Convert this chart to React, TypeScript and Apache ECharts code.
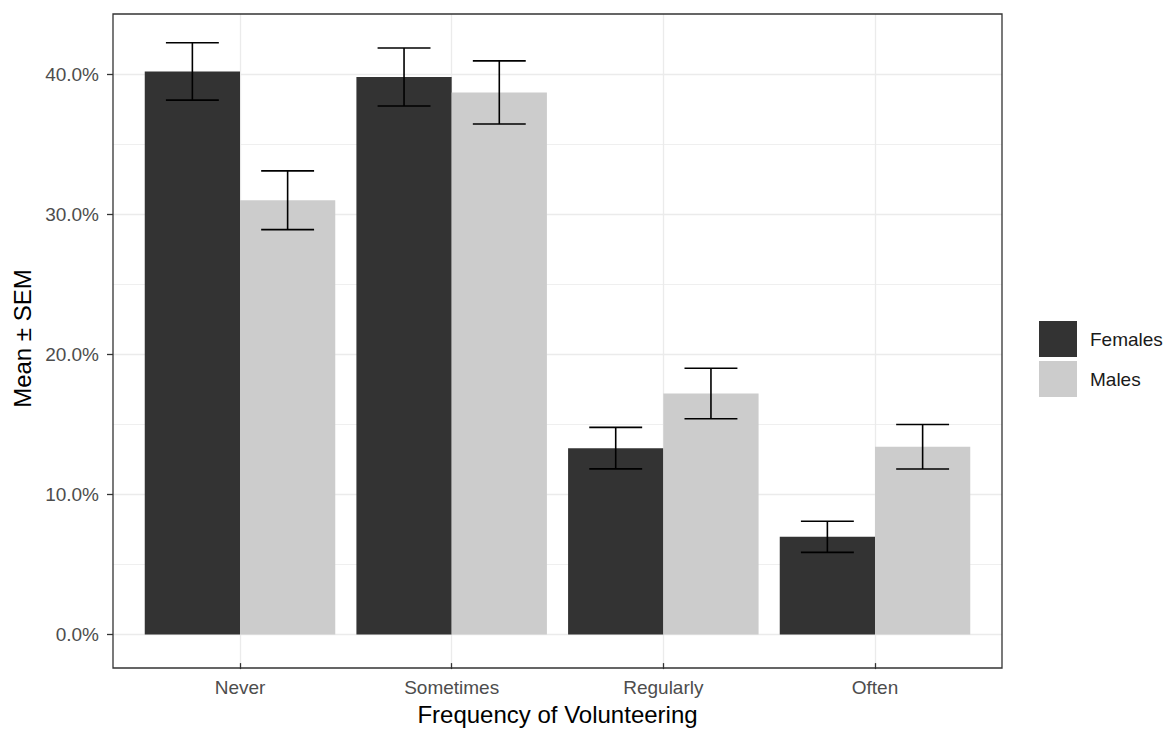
import React, { useEffect, useRef } from "react";
import * as echarts from "echarts";

const categories = ["Never", "Sometimes", "Regularly", "Often"];
const femalesMean = [0.402, 0.398, 0.133, 0.0697];
const femalesSem = [0.0205, 0.0207, 0.0148, 0.0111];
const malesMean = [0.31, 0.387, 0.172, 0.134];
const malesSem = [0.021, 0.0225, 0.018, 0.0159];
const yTicks = [0, 0.1, 0.2, 0.3, 0.4];
const seriesNames = ["Females", "Males"];
const seriesColors = ["#333333", "#CCCCCC"];

const FONT = "'Liberation Sans', Arial, sans-serif";
const DODGE = 0.45;
const CAP = 0.125;

export default function App() {
  const ref = useRef<HTMLDivElement>(null);

  useEffect(() => {
    if (!ref.current) return;
    const chart = echarts.init(ref.current, undefined, { renderer: "svg" });

    const tops = [
      ...femalesMean.map((m, i) => m + femalesSem[i]),
      ...malesMean.map((m, i) => m + malesSem[i]),
    ];
    const yMaxData = Math.max(...tops);
    const pad = yMaxData * 0.0485;

    const groups = [
      { name: seriesNames[0], mean: femalesMean, sem: femalesSem, color: seriesColors[0], off: [-DODGE, 0] },
      { name: seriesNames[1], mean: malesMean, sem: malesSem, color: seriesColors[1], off: [0, DODGE] },
    ];

    const barSeries = groups.map((g) => ({
      type: "custom",
      name: g.name,
      itemStyle: { color: g.color },
      encode: { x: 0, y: 1 },
      data: g.mean.map((m, i) => [i, m]),
      renderItem: (params: any, api: any) => {
        const x = api.value(0);
        const y = api.value(1);
        const p0 = api.coord([x + g.off[0], y]);
        const p1 = api.coord([x + g.off[1], 0]);
        return {
          type: "rect",
          shape: { x: p0[0], y: p0[1], width: p1[0] - p0[0], height: p1[1] - p0[1] },
          style: { fill: g.color },
        };
      },
      z: 2,
    }));

    const errSeries = groups.map((g) => ({
      type: "custom",
      name: g.name + " SEM",
      encode: { x: 0, y: [1, 2] },
      data: g.mean.map((m, i) => [i + (g.off[0] + g.off[1]) / 2, m - g.sem[i], m + g.sem[i]]),
      renderItem: (params: any, api: any) => {
        const x = api.value(0);
        const lo = api.value(1);
        const hi = api.value(2);
        const pl = api.coord([x, lo]);
        const ph = api.coord([x, hi]);
        const cl = api.coord([x - CAP, lo]);
        const cr = api.coord([x + CAP, lo]);
        const st = { stroke: "#000000", lineWidth: 1.6 };
        return {
          type: "group",
          children: [
            { type: "line", shape: { x1: pl[0], y1: pl[1], x2: ph[0], y2: ph[1] }, style: st },
            { type: "line", shape: { x1: cl[0], y1: pl[1], x2: cr[0], y2: pl[1] }, style: st },
            { type: "line", shape: { x1: cl[0], y1: ph[1], x2: cr[0], y2: ph[1] }, style: st },
          ],
        };
      },
      z: 3,
    }));

    const gridLeft = 113;
    const gridTop = 14;
    const gridWidth = 889;
    const gridHeight = 654;

    chart.setOption({
      animation: false,
      backgroundColor: "#FFFFFF",
      textStyle: { fontFamily: FONT },
      grid: { left: gridLeft, top: gridTop, width: gridWidth, height: gridHeight, containLabel: false },
      legend: {
        data: seriesNames,
        orient: "vertical",
        left: 1034,
        top: 316,
        itemWidth: 38,
        itemHeight: 36,
        itemGap: 4,
        icon: "rect",
        selectedMode: false,
        textStyle: { fontSize: 19, color: "#1A1A1A", fontFamily: FONT, padding: [0, 0, 0, 8] },
      },
      xAxis: {
        type: "value",
        min: -0.6,
        max: categories.length - 1 + 0.6,
        name: "Frequency of Volunteering",
        nameLocation: "middle",
        nameGap: 38,
        nameTextStyle: { fontSize: 24, color: "#000000", fontFamily: FONT },
        axisLine: { show: false, onZero: false },
        axisTick: {
          show: true,
          length: 6,
          lineStyle: { color: "#333333", width: 1.3 },
          customValues: categories.map((_, i) => i),
        },
        axisLabel: {
          fontSize: 19,
          color: "#4D4D4D",
          margin: 15,
          fontFamily: FONT,
          customValues: categories.map((_, i) => i),
          formatter: (v: number) => categories[Math.round(v)] ?? "",
        },
        splitLine: { show: true, lineStyle: { color: "#EBEBEB", width: 1.3 } },
        minorSplitLine: { show: false },
      },
      yAxis: {
        type: "value",
        min: -pad,
        max: yMaxData + pad,
        name: "Mean ± SEM",
        nameLocation: "middle",
        nameGap: 79,
        nameRotate: 90,
        nameTextStyle: { fontSize: 24, color: "#000000", fontFamily: FONT },
        axisLine: { show: false, onZero: false },
        axisTick: {
          show: true,
          length: 6,
          lineStyle: { color: "#333333", width: 1.3 },
          customValues: yTicks,
        },
        axisLabel: {
          fontSize: 19,
          color: "#4D4D4D",
          margin: 14,
          fontFamily: FONT,
          customValues: yTicks,
          formatter: (v: number) => (v * 100).toFixed(1) + "%",
        },
        minorTick: { show: false, splitNumber: 2 },
        splitLine: { show: true, lineStyle: { color: "#EBEBEB", width: 1.3 } },
        minorSplitLine: { show: true, lineStyle: { color: "#EBEBEB", width: 0.8 } },
      },
      graphic: [
        {
          type: "rect",
          z: 100,
          silent: true,
          shape: { x: gridLeft, y: gridTop, width: gridWidth, height: gridHeight },
          style: { fill: "none", stroke: "#333333", lineWidth: 1.3 },
        },
      ],
      series: [...barSeries, ...errSeries],
    });

    return () => chart.dispose();
  }, []);

  return (
    <div
      ref={ref}
      style={{ position: "fixed", left: 0, top: 0, width: "1176px", height: "731px" }}
    />
  );
}
